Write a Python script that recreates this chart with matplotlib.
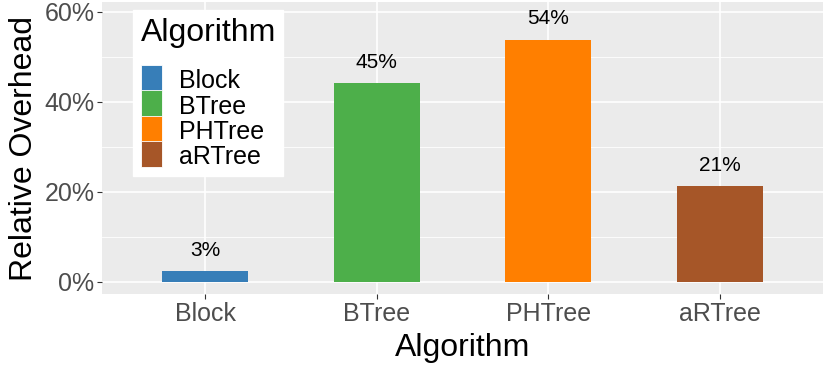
import matplotlib
matplotlib.use("Agg")
import matplotlib.pyplot as plt
from matplotlib.patches import Patch, Rectangle
from matplotlib.legend_handler import HandlerPatch

algorithms = ["Block", "BTree", "PHTree", "aRTree"]
overhead = [2.4, 44.2, 53.8, 21.3]
labels = ["3%", "45%", "54%", "21%"]
colors = ["#377EB8", "#4DAF4A", "#FF7F00", "#A65628"]
yticks = [0, 20, 40, 60]
ytick_labels = ["0%", "20%", "40%", "60%"]

plt.rcParams['font.family'] = ['Liberation Sans', 'DejaVu Sans']

W, H = 830, 371
fig = plt.figure(figsize=(W / 100, H / 100), dpi=100)
L, R, T, B = 102, 823, 2, 294
ax = fig.add_axes([L / W, 1 - B / H, (R - L) / W, (B - T) / H])
ax.set_facecolor("#EBEBEB")

x = list(range(len(algorithms)))
ax.set_xlim(-0.6, len(algorithms) - 0.4)
ax.set_ylim(-2.7, 62.2)

for v in [10, 30, 50]:
    ax.axhline(v, color="white", lw=0.6, zorder=0.5)
for v in yticks:
    ax.axhline(v, color="white", lw=1.2, zorder=0.6)
for xi in x:
    ax.axvline(xi, color="white", lw=1.2, zorder=0.6)

ax.bar(x, overhead, width=0.5, color=colors, zorder=2)
for xi, v, lab in zip(x, overhead, labels):
    ax.annotate(lab, (xi, v), xytext=(0, 15), textcoords="offset points",
                ha="center", va="center", fontsize=15, color="black")

ax.set_xticks(x)
ax.set_xticklabels(algorithms, fontsize=18, color="#4D4D4D")
ax.set_yticks(yticks)
ax.set_yticklabels(ytick_labels, fontsize=18, color="#4D4D4D")
ax.tick_params(axis="both", color="#333333", length=3.5, width=0.8, pad=2)
for s in ax.spines.values():
    s.set_visible(False)

ax.set_xlabel("Algorithm", fontsize=23, labelpad=5)
ax.set_ylabel("Relative Overhead", fontsize=23, labelpad=4)


def full_key(legend, orig_handle, xdescent, ydescent, width, height, fontsize):
    return Rectangle((-xdescent, -ydescent), width, height + ydescent)


handles = [Patch(facecolor=c, edgecolor="white", linewidth=0.6) for c in colors]
leg = ax.legend(handles, algorithms, title="Algorithm", loc="upper left",
                bbox_to_anchor=(133 / W, 1 - 10 / H), bbox_transform=fig.transFigure,
                fontsize=18, title_fontsize=23, frameon=True, fancybox=False,
                handlelength=0.85, handleheight=1.05, labelspacing=0.0,
                handletextpad=0.7, borderpad=0.3, borderaxespad=0,
                handler_map={Patch: HandlerPatch(patch_func=full_key)})
leg.get_frame().set_facecolor("white")
leg.get_frame().set_edgecolor("white")
leg.get_frame().set_alpha(1)
leg._legend_box.align = "left"
leg._legend_box.sep = 15

fig.savefig("out.png", dpi=100)
